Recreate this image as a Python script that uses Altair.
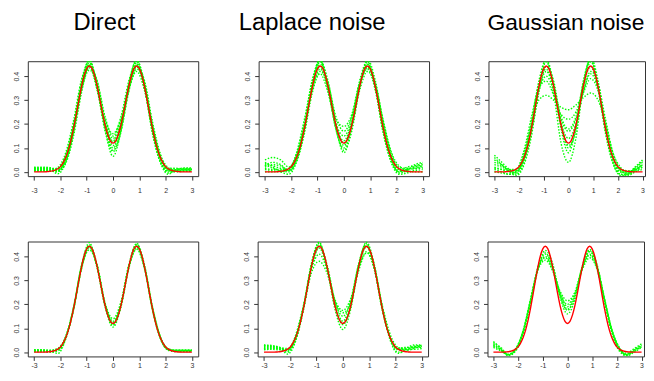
import altair as alt
import pandas as pd

# grid of x positions for the estimated (green) curves
GX = [-3.0, -2.7, -2.4, -2.1, -1.8, -1.5, -1.2, -0.9, -0.6, -0.3, 0.0,
      0.3, 0.6, 0.9, 1.2, 1.5, 1.8, 2.1, 2.4, 2.7, 3.0]

# true density (red)
RX = [-3.0, -2.9, -2.8, -2.7, -2.6, -2.5, -2.4, -2.3, -2.2, -2.1, -2.0,
      -1.9, -1.8, -1.7, -1.6, -1.5, -1.4, -1.3, -1.2, -1.1, -1.0,
      -0.9, -0.8, -0.7, -0.6, -0.5, -0.4, -0.3, -0.2, -0.1, 0.0,
      0.1, 0.2, 0.3, 0.4, 0.5, 0.6, 0.7, 0.8, 0.9, 1.0,
      1.1, 1.2, 1.3, 1.4, 1.5, 1.6, 1.7, 1.8, 1.9, 2.0,
      2.1, 2.2, 2.3, 2.4, 2.5, 2.6, 2.7, 2.8, 2.9, 3.0]
RY = [0.000, 0.000, 0.000, 0.000, 0.000, 0.001, 0.002, 0.004, 0.007, 0.013, 0.022,
      0.038, 0.060, 0.091, 0.132, 0.182, 0.239, 0.299, 0.355, 0.402, 0.432,
      0.443, 0.433, 0.402, 0.357, 0.302, 0.246, 0.195, 0.155, 0.129, 0.120,
      0.129, 0.155, 0.195, 0.246, 0.302, 0.357, 0.402, 0.433, 0.443, 0.432,
      0.402, 0.355, 0.299, 0.239, 0.182, 0.132, 0.091, 0.060, 0.038, 0.022,
      0.013, 0.007, 0.004, 0.002, 0.001, 0.000, 0.000, 0.000, 0.000, 0.000]

DIRECT_TOP = [
    [0.012, 0.012, 0.010, 0.008, 0.050, 0.178, 0.360, 0.455, 0.370, 0.200, 0.110, 0.190, 0.350, 0.450, 0.360, 0.180, 0.055, 0.005, 0.008, 0.010, 0.010],
    [0.018, 0.018, 0.016, 0.010, 0.045, 0.165, 0.340, 0.435, 0.365, 0.215, 0.140, 0.210, 0.360, 0.440, 0.350, 0.175, 0.060, 0.012, 0.012, 0.014, 0.014],
    [0.005, 0.005, 0.004, 0.000, 0.060, 0.195, 0.375, 0.465, 0.355, 0.180, 0.090, 0.175, 0.365, 0.470, 0.365, 0.190, 0.050, -0.005, 0.003, 0.005, 0.005],
    [0.010, 0.010, 0.008, -0.008, 0.040, 0.170, 0.350, 0.440, 0.340, 0.190, 0.130, 0.205, 0.370, 0.455, 0.345, 0.165, 0.045, 0.000, 0.006, 0.008, 0.008],
    [0.015, 0.015, 0.014, 0.015, 0.070, 0.200, 0.370, 0.445, 0.350, 0.185, 0.100, 0.180, 0.340, 0.430, 0.370, 0.200, 0.070, 0.015, 0.015, 0.012, 0.012],
    [0.008, 0.008, 0.006, 0.005, 0.055, 0.185, 0.345, 0.425, 0.375, 0.220, 0.160, 0.220, 0.345, 0.420, 0.340, 0.185, 0.065, 0.010, 0.004, 0.006, 0.006],
    [0.020, 0.020, 0.018, 0.005, 0.045, 0.170, 0.365, 0.470, 0.360, 0.175, 0.065, 0.170, 0.370, 0.465, 0.370, 0.170, 0.040, -0.010, 0.010, 0.016, 0.016],
    [0.003, 0.003, 0.002, 0.012, 0.065, 0.190, 0.355, 0.450, 0.345, 0.205, 0.125, 0.200, 0.355, 0.445, 0.360, 0.195, 0.062, 0.008, 0.000, 0.002, 0.002],
    [0.014, 0.014, 0.012, 0.002, 0.035, 0.150, 0.330, 0.445, 0.380, 0.230, 0.150, 0.230, 0.380, 0.460, 0.355, 0.160, 0.040, 0.004, 0.009, 0.011, 0.011],
    [0.006, 0.006, 0.005, 0.018, 0.080, 0.215, 0.385, 0.460, 0.345, 0.170, 0.085, 0.165, 0.335, 0.440, 0.380, 0.210, 0.075, 0.018, 0.006, 0.004, 0.004],
]

LAPLACE_TOP = [
    [0.050, 0.060, 0.050, 0.020, 0.050, 0.170, 0.350, 0.450, 0.360, 0.200, 0.120, 0.200, 0.360, 0.450, 0.350, 0.170, 0.050, 0.000, 0.010, 0.020, 0.030],
    [0.020, 0.030, 0.025, 0.005, 0.060, 0.200, 0.380, 0.470, 0.350, 0.180, 0.090, 0.170, 0.350, 0.470, 0.380, 0.200, 0.060, -0.005, 0.005, 0.025, 0.035],
    [0.040, 0.020, 0.000, -0.010, 0.040, 0.160, 0.330, 0.420, 0.370, 0.230, 0.170, 0.230, 0.370, 0.430, 0.340, 0.160, 0.040, -0.010, -0.005, 0.010, 0.020],
    [0.010, 0.005, 0.000, 0.010, 0.080, 0.220, 0.370, 0.440, 0.340, 0.190, 0.130, 0.210, 0.360, 0.440, 0.370, 0.210, 0.080, 0.020, 0.015, 0.015, 0.015],
    [0.030, 0.015, 0.005, 0.000, 0.050, 0.180, 0.360, 0.460, 0.380, 0.210, 0.110, 0.190, 0.340, 0.420, 0.360, 0.200, 0.070, 0.010, 0.000, 0.005, 0.010],
    [0.000, 0.000, 0.005, 0.015, 0.070, 0.190, 0.340, 0.410, 0.330, 0.200, 0.150, 0.220, 0.380, 0.465, 0.360, 0.180, 0.055, 0.005, 0.010, 0.030, 0.040],
    [0.025, 0.040, 0.030, 0.005, 0.045, 0.175, 0.365, 0.470, 0.365, 0.185, 0.080, 0.180, 0.365, 0.460, 0.345, 0.165, 0.045, 0.000, 0.020, 0.025, 0.025],
    [0.015, 0.010, 0.010, 0.008, 0.060, 0.185, 0.345, 0.430, 0.355, 0.220, 0.190, 0.240, 0.375, 0.450, 0.355, 0.190, 0.065, 0.015, 0.005, 0.000, 0.000],
    [0.035, 0.025, 0.015, 0.010, 0.075, 0.210, 0.385, 0.465, 0.345, 0.175, 0.100, 0.185, 0.355, 0.435, 0.365, 0.215, 0.085, 0.025, 0.010, 0.015, 0.025],
]

GAUSS_TOP = [
    [0.070, 0.040, 0.010, -0.010, 0.040, 0.170, 0.360, 0.470, 0.370, 0.180, 0.080, 0.190, 0.380, 0.470, 0.360, 0.170, 0.040, -0.015, -0.010, 0.020, 0.050],
    [0.030, 0.020, 0.010, 0.010, 0.080, 0.200, 0.300, 0.320, 0.300, 0.270, 0.260, 0.280, 0.310, 0.330, 0.300, 0.200, 0.080, 0.020, 0.000, 0.010, 0.030],
    [0.010, 0.000, -0.010, 0.000, 0.060, 0.200, 0.380, 0.470, 0.330, 0.120, 0.040, 0.140, 0.360, 0.480, 0.380, 0.190, 0.050, -0.010, -0.015, 0.000, 0.020],
    [0.050, 0.030, 0.010, 0.005, 0.060, 0.190, 0.340, 0.400, 0.340, 0.220, 0.170, 0.220, 0.340, 0.410, 0.350, 0.200, 0.060, 0.000, -0.005, 0.015, 0.040],
    [0.020, 0.010, 0.000, 0.000, 0.050, 0.160, 0.330, 0.440, 0.380, 0.210, 0.110, 0.170, 0.350, 0.460, 0.370, 0.180, 0.050, 0.000, 0.000, 0.010, 0.020],
    [0.040, 0.025, 0.005, -0.005, 0.070, 0.210, 0.370, 0.430, 0.330, 0.200, 0.140, 0.200, 0.330, 0.420, 0.370, 0.220, 0.080, 0.010, -0.010, 0.005, 0.030],
    [0.000, -0.005, -0.010, 0.010, 0.090, 0.230, 0.350, 0.380, 0.320, 0.240, 0.220, 0.250, 0.330, 0.390, 0.340, 0.210, 0.070, 0.005, -0.005, 0.020, 0.045],
    [0.060, 0.030, 0.000, -0.015, 0.030, 0.150, 0.350, 0.460, 0.360, 0.190, 0.100, 0.180, 0.370, 0.470, 0.350, 0.160, 0.035, -0.010, -0.010, 0.010, 0.030],
    [0.015, 0.010, 0.005, 0.005, 0.055, 0.180, 0.345, 0.420, 0.360, 0.230, 0.180, 0.230, 0.365, 0.440, 0.340, 0.180, 0.055, 0.010, 0.005, 0.005, 0.010],
]

DIRECT_BOT = [
    [0.008, 0.008, 0.006, 0.010, 0.062, 0.185, 0.358, 0.450, 0.362, 0.198, 0.112, 0.192, 0.355, 0.448, 0.358, 0.184, 0.058, 0.010, 0.006, 0.006, 0.006],
    [0.004, 0.004, 0.002, 0.005, 0.055, 0.178, 0.350, 0.438, 0.355, 0.200, 0.130, 0.205, 0.362, 0.440, 0.350, 0.178, 0.060, 0.015, 0.004, 0.004, 0.004],
    [0.010, 0.010, 0.008, 0.014, 0.066, 0.190, 0.362, 0.458, 0.350, 0.188, 0.105, 0.188, 0.352, 0.455, 0.364, 0.190, 0.064, 0.012, 0.008, 0.008, 0.008],
    [0.002, 0.002, 0.000, 0.008, 0.058, 0.180, 0.352, 0.428, 0.360, 0.205, 0.140, 0.210, 0.360, 0.430, 0.348, 0.176, 0.056, 0.008, 0.002, 0.003, 0.003],
    [0.006, 0.006, 0.004, -0.005, 0.055, 0.186, 0.362, 0.446, 0.352, 0.192, 0.118, 0.196, 0.365, 0.452, 0.352, 0.180, 0.062, 0.010, 0.007, 0.007, 0.007],
    [0.009, 0.009, 0.007, 0.016, 0.064, 0.178, 0.346, 0.440, 0.365, 0.202, 0.125, 0.196, 0.350, 0.435, 0.356, 0.188, 0.066, 0.014, 0.009, 0.009, 0.009],
]

LAPLACE_BOT = [
    [0.025, 0.025, 0.020, 0.015, 0.065, 0.190, 0.360, 0.450, 0.360, 0.200, 0.120, 0.195, 0.355, 0.445, 0.355, 0.185, 0.060, 0.010, 0.015, 0.025, 0.028],
    [0.015, 0.018, 0.012, 0.000, 0.050, 0.175, 0.350, 0.440, 0.365, 0.215, 0.150, 0.215, 0.365, 0.440, 0.345, 0.175, 0.060, 0.018, 0.020, 0.020, 0.020],
    [0.030, 0.028, 0.020, 0.005, 0.055, 0.185, 0.370, 0.460, 0.350, 0.180, 0.095, 0.180, 0.360, 0.460, 0.365, 0.190, 0.055, 0.000, 0.005, 0.015, 0.030],
    [0.010, 0.012, 0.010, 0.010, 0.070, 0.195, 0.345, 0.410, 0.345, 0.220, 0.175, 0.225, 0.350, 0.420, 0.345, 0.195, 0.075, 0.020, 0.012, 0.012, 0.015],
    [0.020, 0.020, 0.015, -0.008, 0.045, 0.180, 0.365, 0.455, 0.355, 0.195, 0.115, 0.190, 0.365, 0.455, 0.360, 0.180, 0.050, -0.005, 0.010, 0.022, 0.025],
    [0.028, 0.024, 0.018, 0.010, 0.060, 0.180, 0.330, 0.380, 0.330, 0.215, 0.165, 0.205, 0.340, 0.415, 0.355, 0.190, 0.065, 0.012, 0.010, 0.018, 0.022],
    [0.012, 0.015, 0.015, 0.008, 0.058, 0.188, 0.356, 0.435, 0.350, 0.205, 0.130, 0.210, 0.370, 0.450, 0.350, 0.178, 0.058, 0.015, 0.018, 0.030, 0.030],
]

GAUSS_BOT = [
    [0.040, 0.020, -0.010, 0.010, 0.080, 0.210, 0.350, 0.410, 0.360, 0.240, 0.180, 0.230, 0.350, 0.420, 0.360, 0.215, 0.085, 0.010, -0.012, 0.005, 0.025],
    [0.030, 0.010, -0.012, 0.012, 0.085, 0.215, 0.345, 0.395, 0.345, 0.245, 0.200, 0.250, 0.355, 0.405, 0.350, 0.220, 0.090, 0.015, -0.010, 0.010, 0.030],
    [0.020, 0.005, -0.008, 0.015, 0.090, 0.220, 0.355, 0.425, 0.370, 0.230, 0.160, 0.220, 0.360, 0.430, 0.365, 0.225, 0.095, 0.020, -0.005, 0.015, 0.035],
    [0.045, 0.015, -0.015, 0.005, 0.075, 0.205, 0.340, 0.385, 0.340, 0.255, 0.215, 0.250, 0.345, 0.395, 0.345, 0.210, 0.080, 0.005, -0.015, 0.000, 0.020],
    [0.035, 0.012, -0.010, 0.008, 0.082, 0.212, 0.352, 0.415, 0.355, 0.235, 0.175, 0.235, 0.358, 0.425, 0.358, 0.218, 0.088, 0.012, -0.008, 0.010, 0.028],
    [0.025, 0.008, -0.012, 0.012, 0.088, 0.218, 0.348, 0.400, 0.350, 0.250, 0.190, 0.240, 0.348, 0.410, 0.355, 0.222, 0.092, 0.018, -0.012, 0.005, 0.022],
]

X_TICKS = [-3, -2, -1, 0, 1, 2, 3]
Y_TICKS = [0.0, 0.1, 0.2, 0.3, 0.4]
X_DOMAIN = [-3.24, 3.24]
X_DOMAIN_CUT = [-3.24, 3.1]
Y_DOMAIN = [-0.0178, 0.4628]

FONT = "Liberation Sans"
PANEL_W = 172
PANEL_W_CUT = 158
PANEL_H = 116

red_df = pd.DataFrame({"x": RX, "y": RY})


def long_df(curves):
    rows = []
    for i, ys in enumerate(curves):
        for x, y in zip(GX, ys):
            rows.append({"x": x, "y": y, "curve": i})
    return pd.DataFrame(rows)


y_enc = alt.Y(
    "y:Q",
    scale=alt.Scale(domain=Y_DOMAIN, nice=False, zero=False),
    axis=alt.Axis(
        title=None, values=Y_TICKS, format=".1f",
        labelAngle=270, labelAlign="center", labelBaseline="bottom",
        tickSize=4, labelPadding=4, labelOverlap=False,
        minExtent=19, maxExtent=19,
    ),
)


def x_encoding(top_row, cut):
    return alt.X(
        "x:Q",
        scale=alt.Scale(domain=X_DOMAIN_CUT if cut else X_DOMAIN, nice=False, zero=False),
        axis=alt.Axis(
            title=None, values=X_TICKS,
            labelExpr="datum.value < 0 ? '-' + abs(datum.value) : '' + datum.value",
            tickSize=4, labelPadding=7 if top_row else 1,
            labelFlush=False, labelOverlap=False,
            minExtent=20 if top_row else 13, maxExtent=20 if top_row else 13,
        ),
    )


def panel(curves, title=None, dx=0, cut=False, tsize=24):
    x_enc = x_encoding(title is not None, cut)
    green = alt.Chart(long_df(curves)).mark_line(
        color="#00FF00", strokeWidth=1.4, strokeDash=[1.5, 1.6], clip=True,
        interpolate="monotone",
    ).encode(x=x_enc, y=y_enc, detail="curve:N")
    red = alt.Chart(red_df).mark_line(
        color="#FF0000", strokeWidth=1.4, clip=True, interpolate="monotone",
    ).encode(x=x_enc, y=y_enc)
    layer = alt.layer(green, red)
    w = PANEL_W_CUT if cut else PANEL_W
    if title is not None:
        return layer.properties(
            width=w, height=PANEL_H,
            title=alt.TitleParams(
                text=title, fontSize=tsize, font=FONT, fontWeight="normal",
                color="#000000", anchor="start", frame="group", dx=dx,
                offset=27, baseline="top",
            ),
        )
    return layer.properties(width=w, height=PANEL_H)


top = alt.hconcat(
    panel(DIRECT_TOP, "Direct", 46),
    panel(LAPLACE_TOP, "Laplace noise", -20),
    panel(GAUSS_TOP, "Gaussian noise", -1, cut=True, tsize=23),
    spacing=39,
)
bottom = alt.hconcat(
    panel(DIRECT_BOT),
    panel(LAPLACE_BOT),
    panel(GAUSS_BOT, cut=True),
    spacing=39,
)

chart = alt.vconcat(top, bottom, spacing=44).properties(
    padding={"left": 0, "top": 0, "right": 0, "bottom": 0},
    background="white",
).configure_view(
    stroke="#333333", strokeWidth=1,
).configure_axis(
    grid=False, domain=False, tickColor="#333333", labelColor="#333333",
    labelFont=FONT, labelFontSize=7,
)

chart.save("out.html", embed_options={"renderer": "svg", "actions": False})
